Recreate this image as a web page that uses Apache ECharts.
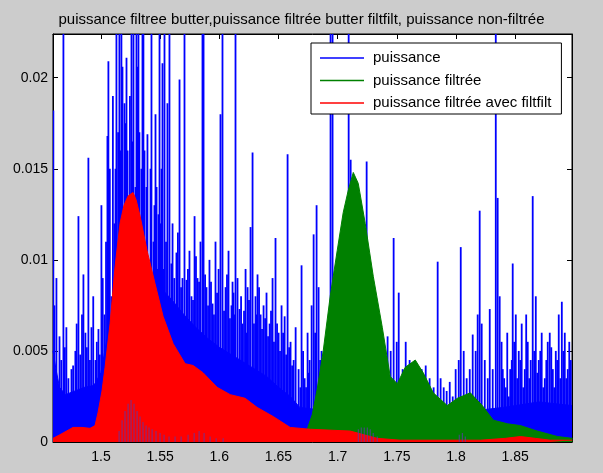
<!DOCTYPE html>
<html>
<head>
<meta charset="utf-8">
<script src="https://cdn.jsdelivr.net/npm/echarts@6/dist/echarts.min.js"></script>
<style>
  html, body { margin: 0; padding: 0; background: #cccccc; }
  #chart { width: 603px; height: 473px; }
</style>
</head>
<body>
<div id="chart"></div>
<script>
// Axis ticks
const xTicks = [1.5, 1.55, 1.6, 1.65, 1.7, 1.75, 1.8, 1.85];
const yTicks = [0, 0.005, 0.01, 0.015, 0.02];

// Raw power: individual spikes (frequency, power)
const spikeX = [
  1.4603, 1.4612, 1.4629, 1.4655, 1.4670, 1.4688, 1.4700, 1.4713, 1.4730, 1.4756,
  1.4770, 1.4789, 1.4800, 1.4815, 1.4830, 1.4845, 1.4857, 1.4874, 1.4886, 1.4899,
  1.4912, 1.4925, 1.4940, 1.4959, 1.4970, 1.4984, 1.4995, 1.5009, 1.5020, 1.5035,
  1.5048, 1.5060, 1.5068, 1.5080, 1.5094, 1.5106, 1.5119, 1.5128, 1.5136, 1.5150,
  1.5161, 1.5170, 1.5178, 1.5187, 1.5204, 1.5212, 1.5221, 1.5230, 1.5238, 1.5250,
  1.5263, 1.5272, 1.5280, 1.5297, 1.5305, 1.5314, 1.5322, 1.5330, 1.5339, 1.5347,
  1.5356, 1.5364, 1.5373, 1.5381, 1.5390, 1.5398, 1.5415, 1.5424, 1.5432, 1.5449,
  1.5457, 1.5466, 1.5475, 1.5483, 1.5491, 1.5500, 1.5508, 1.5517, 1.5525, 1.5530,
  1.5542, 1.5555, 1.5567, 1.5584, 1.5600, 1.5610, 1.5625, 1.5643, 1.5655, 1.5669,
  1.5682, 1.5694, 1.5711, 1.5728, 1.5740, 1.5753, 1.5770, 1.5783, 1.5796, 1.5808,
  1.5821, 1.5834, 1.5846, 1.5863, 1.5872, 1.5885, 1.5897, 1.5910, 1.5922, 1.5935,
  1.5948, 1.5960, 1.5973, 1.5986, 1.5999, 1.6015, 1.6032, 1.6045, 1.6058, 1.6070,
  1.6083, 1.6095, 1.6108, 1.6117, 1.6125, 1.6134, 1.6142, 1.6159, 1.6176, 1.6189,
  1.6201, 1.6214, 1.6227, 1.6236, 1.6244, 1.6256, 1.6269, 1.6286, 1.6298, 1.6311,
  1.6320, 1.6328, 1.6341, 1.6354, 1.6366, 1.6379, 1.6392, 1.6404, 1.6417, 1.6430,
  1.6442, 1.6455, 1.6467, 1.6480, 1.6493, 1.6506, 1.6518, 1.6531, 1.6544, 1.6557,
  1.6570, 1.6582, 1.6595, 1.6607, 1.6620, 1.6633, 1.6650, 1.6675, 1.6690, 1.6700,
  1.6713, 1.6726, 1.6738, 1.6751, 1.6760, 1.6768, 1.6785, 1.6802, 1.6815, 1.6827,
  1.6844, 1.6857, 1.6869, 1.6882, 1.6895, 1.6907, 1.6920, 1.6945, 1.6962, 1.6988,
  1.7022, 1.7064, 1.7098, 1.7115, 1.7148, 1.7191, 1.7225, 1.7250, 1.7275, 1.7317,
  1.7360, 1.7394, 1.7427, 1.7453, 1.7478, 1.7504, 1.7521, 1.7554, 1.7580, 1.7613,
  1.7647, 1.7681, 1.7715, 1.7749, 1.7782, 1.7816, 1.7850, 1.7875, 1.7901, 1.7926,
  1.7952, 1.7977, 1.8002, 1.8028, 1.8045, 1.8070, 1.8095, 1.8121, 1.8146, 1.8171,
  1.8188, 1.8205, 1.8222, 1.8248, 1.8273, 1.8290, 1.8315, 1.8341, 1.8357, 1.8374,
  1.8390, 1.8400, 1.8412, 1.8425, 1.8438, 1.8451, 1.8463, 1.8476, 1.8484, 1.8497,
  1.8510, 1.8522, 1.8535, 1.8548, 1.8560, 1.8573, 1.8586, 1.8598, 1.8611, 1.8624,
  1.8636, 1.8653, 1.8666, 1.8679, 1.8692, 1.8704, 1.8717, 1.8729, 1.8742, 1.8755,
  1.8768, 1.8780, 1.8797, 1.8810, 1.8823, 1.8835, 1.8848, 1.8860, 1.8873, 1.8886,
  1.8899, 1.8912, 1.8924, 1.8937, 1.8949, 1.8962, 1.8975
];
const spikeY = [
  0.0182, 0.0075, 0.0090, 0.0058, 0.0045, 0.0300, 0.0052, 0.0063, 0.0035, 0.0040,
  0.0042, 0.0050, 0.0065, 0.0124, 0.0048, 0.0070, 0.0092, 0.0060, 0.0052, 0.0156,
  0.0045, 0.0063, 0.0080, 0.0045, 0.0055, 0.0062, 0.0048, 0.0130, 0.0090, 0.0070,
  0.0110, 0.0168, 0.0209, 0.0150, 0.0080, 0.0190, 0.0120, 0.0150, 0.0300, 0.0170,
  0.0300, 0.0160, 0.0300, 0.0206, 0.0186, 0.0175, 0.0211, 0.0160, 0.0110, 0.0190,
  0.0300, 0.0165, 0.0300, 0.0140, 0.0300, 0.0206, 0.0300, 0.0170, 0.0120, 0.0150,
  0.0300, 0.0300, 0.0160, 0.0100, 0.0140, 0.0169, 0.0090, 0.0150, 0.0300, 0.0110,
  0.0130, 0.0180, 0.0140, 0.0095, 0.0125, 0.0300, 0.0120, 0.0150, 0.0208, 0.0095,
  0.0300, 0.0110, 0.0186, 0.0300, 0.0098, 0.0120, 0.0090, 0.0104, 0.0115, 0.0199,
  0.0085, 0.0090, 0.0300, 0.0089, 0.0095, 0.0105, 0.0080, 0.0078, 0.0124, 0.0102,
  0.0090, 0.0088, 0.0110, 0.0243, 0.0300, 0.0092, 0.0085, 0.0075, 0.0100, 0.0088,
  0.0076, 0.0070, 0.0110, 0.0082, 0.0095, 0.0180, 0.0300, 0.0072, 0.0085, 0.0092,
  0.0105, 0.0068, 0.0075, 0.0088, 0.0082, 0.0070, 0.0300, 0.0090, 0.0073, 0.0080,
  0.0065, 0.0072, 0.0095, 0.0060, 0.0085, 0.0078, 0.0118, 0.0159, 0.0065, 0.0080,
  0.0070, 0.0092, 0.0085, 0.0070, 0.0062, 0.0075, 0.0068, 0.0082, 0.0058, 0.0065,
  0.0072, 0.0090, 0.0055, 0.0112, 0.0065, 0.0060, 0.0050, 0.0075, 0.0060, 0.0069,
  0.0048, 0.0158, 0.0052, 0.0055, 0.0042, 0.0045, 0.0063, 0.0040, 0.0030, 0.0097,
  0.0050, 0.0035, 0.0030, 0.0060, 0.0038, 0.0045, 0.0075, 0.0114, 0.0060, 0.0130,
  0.0085, 0.0045, 0.0050, 0.0035, 0.0040, 0.0050, 0.0060, 0.0300, 0.0300, 0.0050,
  0.0060, 0.0070, 0.0300, 0.0155, 0.0080, 0.0090, 0.0060, 0.0154, 0.0050, 0.0045,
  0.0040, 0.0035, 0.0058, 0.0050, 0.0112, 0.0055, 0.0082, 0.0040, 0.0055, 0.0045,
  0.0030, 0.0035, 0.0040, 0.0042, 0.0035, 0.0030, 0.0099, 0.0035, 0.0030, 0.0028,
  0.0033, 0.0025, 0.0040, 0.0045, 0.0107, 0.0050, 0.0035, 0.0040, 0.0059, 0.0050,
  0.0070, 0.0127, 0.0065, 0.0045, 0.0035, 0.0073, 0.0040, 0.0300, 0.0134, 0.0080,
  0.0055, 0.0040, 0.0035, 0.0030, 0.0060, 0.0025, 0.0040, 0.0045, 0.0098, 0.0055,
  0.0070, 0.0035, 0.0050, 0.0045, 0.0065, 0.0030, 0.0040, 0.0070, 0.0055, 0.0035,
  0.0045, 0.0135, 0.0050, 0.0080, 0.0038, 0.0045, 0.0050, 0.0060, 0.0030, 0.0035,
  0.0045, 0.0055, 0.0060, 0.0052, 0.0040, 0.0030, 0.0050, 0.0045, 0.0070, 0.0035,
  0.0077, 0.0050, 0.0060, 0.0035, 0.0040, 0.0055, 0.0045
];

// Raw power: dense lower band between the spikes
const bandX = [
  1.4595, 1.4620, 1.4650, 1.4700, 1.4780, 1.4860, 1.4940, 1.5000, 1.5060, 1.5120,
  1.5200, 1.5300, 1.5400, 1.5500, 1.5600, 1.5700, 1.5800, 1.5900, 1.6000, 1.6100,
  1.6200, 1.6300, 1.6400, 1.6500, 1.6600, 1.6680, 1.6800, 1.7000, 1.7500, 1.8000,
  1.8400, 1.8700, 1.8980
];
const bandY = [
  0.0050, 0.0040, 0.0030, 0.0026, 0.0028, 0.0030, 0.0031, 0.0038, 0.0060, 0.0080,
  0.0088, 0.0088, 0.0086, 0.0085, 0.0078, 0.0070, 0.0063, 0.0057, 0.0052, 0.0048,
  0.0044, 0.0040, 0.0036, 0.0030, 0.0025, 0.0019, 0.0018, 0.0017, 0.0015, 0.0016,
  0.0019, 0.0022, 0.0020
];

// Butterworth-filtered power
const filtX = [
  1.6683, 1.6743, 1.6785, 1.6827, 1.6878, 1.6937, 1.6996, 1.7047, 1.7089, 1.7132,
  1.7174, 1.7233, 1.7301, 1.7377, 1.7444, 1.7504, 1.7571, 1.7656, 1.7723, 1.7808,
  1.7926, 1.8011, 1.8121, 1.8222, 1.8315, 1.8434, 1.8544, 1.8687, 1.8857, 1.8983
];
const filtY = [
  0.0000, 0.0007, 0.0015, 0.0029, 0.0050, 0.0080, 0.0105, 0.0126, 0.0138, 0.0148,
  0.0142, 0.0120, 0.0091, 0.0063, 0.0036, 0.0032, 0.0041, 0.0045, 0.0038, 0.0027,
  0.0020, 0.0024, 0.0027, 0.0020, 0.0012, 0.0010, 0.0009, 0.0006, 0.0003, 0.0002
];

// Zero-phase (filtfilt) filtered power
const ffX = [
  1.4595, 1.4654, 1.4764, 1.4840, 1.4908, 1.4950, 1.4975, 1.5009, 1.5035, 1.5077,
  1.5119, 1.5161, 1.5195, 1.5229, 1.5271, 1.5297, 1.5331, 1.5390, 1.5457, 1.5525,
  1.5610, 1.5711, 1.5779, 1.5863, 1.5982, 1.6092, 1.6218, 1.6320, 1.6455, 1.6599,
  1.6768, 1.7106, 1.7334, 1.7529, 1.8205, 1.8417, 1.8544, 1.8670, 1.8797, 1.8983
];
const ffY = [
  0.0002, 0.0004, 0.0008, 0.0008, 0.00075, 0.0009, 0.0016, 0.0028, 0.0041, 0.0065,
  0.0096, 0.0120, 0.0130, 0.0135, 0.0137, 0.0133, 0.0124, 0.0105, 0.0087, 0.0069,
  0.0054, 0.0043, 0.0042, 0.0038, 0.0030, 0.0026, 0.0024, 0.0019, 0.0014, 0.0008,
  0.0007, 0.0006, 0.0002, 0.0001, 0.0001, 0.0002, 0.0003, 0.0002, 0.0001, 0.0001
];

// Raw power showing through the bottom of the filtered curves
const lowX = [
  1.5145, 1.5170, 1.5195, 1.5221, 1.5246, 1.5271, 1.5297, 1.5322, 1.5347, 1.5373,
  1.5398, 1.5424, 1.5457, 1.5491, 1.5525, 1.5567, 1.5618, 1.5669, 1.5728, 1.5779,
  1.5821, 1.5863, 1.5914, 1.5965, 1.6024,
  1.7166, 1.7191, 1.7216, 1.7242, 1.7267, 1.7292, 1.7326,
  1.8019, 1.8045, 1.8070
];
const lowY = [
  0.0006, 0.0012, 0.0017, 0.0021, 0.0023, 0.0021, 0.0017, 0.0014, 0.0011, 0.0009,
  0.0008, 0.0007, 0.0006, 0.0005, 0.0004, 0.0003, 0.0003, 0.0003, 0.0004, 0.0005,
  0.0006, 0.0005, 0.0003, 0.0002, 0.0002,
  0.0007, 0.0008, 0.0008, 0.0008, 0.0007, 0.0005, 0.0003,
  0.0004, 0.0005, 0.0003
];

const pairs = (xs, ys) => xs.map((x, i) => [x, ys[i]]);

const X_MIN = 1.4595, X_MAX = 1.898, Y_MIN = 0, Y_MAX = 0.0224;
const FONT = 'Liberation Sans, Arial, sans-serif';

const chart = echarts.init(document.getElementById('chart'), null, { renderer: 'canvas' });

const axisCommon = {
  type: 'value',
  axisLine: { show: true, onZero: false, lineStyle: { color: '#000', width: 1 } },
  splitLine: { show: false },
  axisTick: { inside: true, length: 5, lineStyle: { color: '#000' } }
};

chart.setOption({
  animation: false,
  backgroundColor: '#cccccc',
  title: {
    text: 'puissance filtree butter,puissance filtrée butter filtfilt, puissance non-filtrée',
    left: 'center',
    top: 7,
    textStyle: { fontFamily: FONT, fontSize: 15, fontWeight: 'normal', color: '#000' }
  },
  legend: {
    orient: 'vertical',
    left: 311,
    top: 43,
    data: ['puissance', 'puissance filtrée', 'puissance filtrée avec filtfilt'],
    icon: 'rect',
    itemWidth: 44,
    itemHeight: 1.5,
    itemGap: 6.5,
    padding: [7, 10, 3, 9],
    backgroundColor: '#fff',
    borderColor: '#000',
    borderWidth: 1,
    borderRadius: 0,
    selectedMode: false,
    textStyle: { fontFamily: FONT, fontSize: 15, color: '#000', lineHeight: 16, padding: [0, 0, 0, 4] }
  },
  grid: {
    left: 53, right: 31, top: 34, bottom: 31,
    show: true, backgroundColor: '#fff', borderColor: '#000', borderWidth: 1
  },
  xAxis: [
    Object.assign({}, axisCommon, {
      min: X_MIN, max: X_MAX, position: 'bottom',
      axisTick: Object.assign({}, axisCommon.axisTick, { customValues: xTicks }),
      axisLabel: {
        customValues: xTicks, margin: 8, color: '#000',
        fontFamily: FONT, fontSize: 14, formatter: v => String(v)
      }
    }),
    Object.assign({}, axisCommon, {
      min: X_MIN, max: X_MAX, position: 'top',
      axisTick: Object.assign({}, axisCommon.axisTick, { customValues: xTicks }),
      axisLabel: { show: false }
    })
  ],
  yAxis: [
    Object.assign({}, axisCommon, {
      min: Y_MIN, max: Y_MAX, position: 'left',
      axisTick: Object.assign({}, axisCommon.axisTick, { customValues: yTicks }),
      axisLabel: {
        customValues: yTicks, margin: 5, color: '#000',
        fontFamily: FONT, fontSize: 14, formatter: v => String(v)
      }
    }),
    Object.assign({}, axisCommon, {
      min: Y_MIN, max: Y_MAX, position: 'right',
      axisTick: Object.assign({}, axisCommon.axisTick, { customValues: yTicks }),
      axisLabel: { show: false }
    })
  ],
  series: [
    {
      name: 'puissance',
      type: 'line',
      data: pairs(bandX, bandY),
      showSymbol: false,
      color: '#0000ff',
      lineStyle: { width: 1, color: '#0000ff' },
      areaStyle: { color: '#0000ff', opacity: 1 },
      clip: true,
      z: 1
    },
    {
      name: 'puissance',
      type: 'bar',
      data: pairs(spikeX, spikeY),
      barWidth: 1.8,
      color: '#0000ff',
      itemStyle: { color: '#0000ff' },
      clip: true,
      z: 2
    },
    {
      name: 'puissance filtrée',
      type: 'line',
      data: pairs(filtX, filtY),
      showSymbol: false,
      color: '#008000',
      lineStyle: { width: 1, color: '#008000' },
      areaStyle: { color: '#008000', opacity: 1 },
      clip: true,
      z: 3
    },
    {
      name: 'puissance filtrée avec filtfilt',
      type: 'line',
      data: pairs(ffX, ffY),
      showSymbol: false,
      color: '#ff0000',
      lineStyle: { width: 1, color: '#ff0000' },
      areaStyle: { color: '#ff0000', opacity: 1 },
      clip: true,
      z: 4
    },
    {
      type: 'bar',
      data: pairs(lowX, lowY),
      barWidth: 1,
      itemStyle: { color: '#5a3aa8', opacity: 0.85 },
      clip: true,
      z: 5
    }
  ]
});
</script>
</body>
</html>
